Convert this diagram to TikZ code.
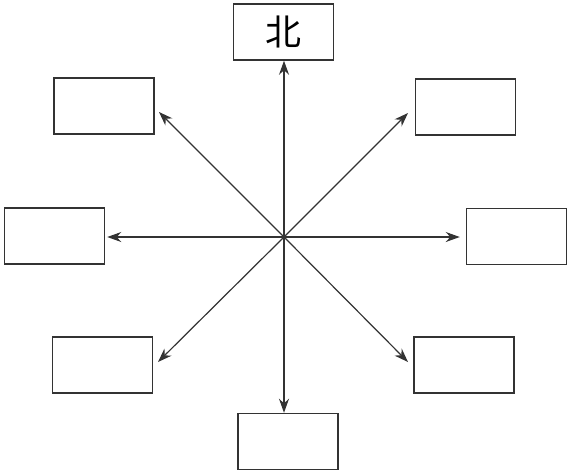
\documentclass[tikz,border=0pt]{standalone}
\usepackage{fontspec}
\newfontfamily\cjkfont{Noto Sans CJK SC}
\usepackage{tikz}
\usetikzlibrary{arrows.meta, positioning, calc}
\definecolor{inkdark}{HTML}{333333}

\begin{document}
\begin{tikzpicture}[
    x=0.5pt, y=-0.5pt,
    dirbox/.style={draw=inkdark, line width=0.75pt, minimum width=50pt, minimum height=28pt, inner sep=0pt},
    dirarrow/.style={-{Stealth[length=7pt, width=5pt]}, line width=0.6pt, color=inkdark},
]

% Bounding box
\useasboundingbox (0, 0) rectangle (571, 473);

% Centre of the compass
\coordinate (centre) at (284, 237);

% Direction boxes
\node[dirbox, font=\cjkfont\fontsize{18}{20}\selectfont] (north) at (283.5, 32) {北};
\node[dirbox] (northwest) at (104, 106) {};
\node[dirbox] (northeast) at (465.5, 107) {};
\node[dirbox] (west) at (54.5, 236) {};
\node[dirbox] (east) at (516.5, 236.5) {};
\node[dirbox] (southwest) at (102.5, 365) {};
\node[dirbox] (southeast) at (464, 365) {};
\node[dirbox] (south) at (288, 441.5) {};

% Arrow tips near the diagonal boxes
\coordinate (tipnw) at (159, 112);
\coordinate (tipne) at (408, 113);
\coordinate (tipsw) at (158, 362);
\coordinate (tipse) at (408, 362);

% Arrows
\draw[dirarrow] (centre) -- (centre |- north.south);
\draw[dirarrow] (centre) -- (centre |- south.north);
\draw[dirarrow] (centre) -- ([xshift=1pt]west.east |- centre);
\draw[dirarrow] (centre) -- ([xshift=-3pt]east.west |- centre);
\draw[dirarrow] (centre) -- (tipnw);
\draw[dirarrow] (centre) -- (tipne);
\draw[dirarrow] (centre) -- (tipsw);
\draw[dirarrow] (centre) -- (tipse);

\end{tikzpicture}
\end{document}
